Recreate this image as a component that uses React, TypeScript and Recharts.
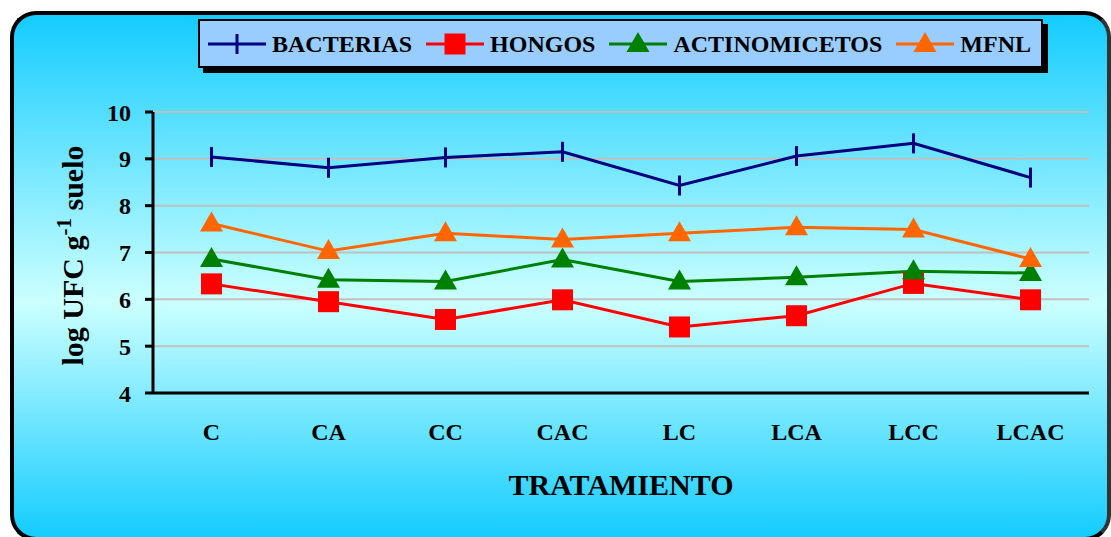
import React from 'react';
import { LineChart, Line, XAxis, YAxis, CartesianGrid, Label } from 'recharts';

const categories = ['C', 'CA', 'CC', 'CAC', 'LC', 'LCA', 'LCC', 'LCAC'];
const bacterias = [9.04, 8.81, 9.03, 9.15, 8.43, 9.06, 9.33, 8.6];
const hongos = [6.33, 5.95, 5.57, 5.99, 5.41, 5.65, 6.34, 5.99];
const actinomicetos = [6.86, 6.42, 6.38, 6.85, 6.38, 6.47, 6.6, 6.56];
const mfnl = [7.62, 7.03, 7.41, 7.28, 7.41, 7.54, 7.49, 6.86];
const yTicks = [4, 5, 6, 7, 8, 9, 10];
const seriesNames = ['BACTERIAS', 'HONGOS', 'ACTINOMICETOS', 'MFNL'];
const colors = ['#000080', '#FF0000', '#008000', '#FF6600'];
const markerTypes = ['dash', 'square', 'triangle', 'triangle'];

const boundaryTicks = categories.map((_, i) => i).concat([categories.length]);
const centerTicks = categories.map((_, i) => i + 0.5);

const data = categories.map((c, i) => ({
  name: c,
  x: i + 0.5,
  bacterias: bacterias[i],
  hongos: hongos[i],
  actinomicetos: actinomicetos[i],
  mfnl: mfnl[i],
}));

const FONT = '"Liberation Serif", "Times New Roman", serif';

function Marker({ type, cx, cy, color }: { type: string; cx: number; cy: number; color: string }) {
  if (type === 'dash') {
    return <line x1={cx} y1={cy - 10} x2={cx} y2={cy + 10} stroke={color} strokeWidth={3} />;
  }
  if (type === 'square') {
    return <rect x={cx - 10.5} y={cy - 10.5} width={21} height={21} fill={color} />;
  }
  return (
    <polygon
      points={`${cx},${cy - 12} ${cx + 11.5},${cy + 8} ${cx - 11.5},${cy + 8}`}
      fill={color}
    />
  );
}

const makeDot = (idx: number) => (props: any) => {
  const { cx, cy, index } = props;
  if (cx == null || cy == null) return <g key={`d${idx}-${index}`} />;
  return (
    <g key={`d${idx}-${index}`}>
      <Marker type={markerTypes[idx]} cx={cx} cy={cy} color={colors[idx]} />
    </g>
  );
};

function LegendBox() {
  return (
    <div
      style={{
        position: 'absolute',
        left: 198,
        top: 19,
        width: 845,
        height: 49,
        boxSizing: 'border-box',
        background: '#99CCFF',
        border: '2px solid #000',
        boxShadow: '5px 5px 0 #000',
        display: 'flex',
        alignItems: 'center',
        paddingLeft: 8,
        fontFamily: FONT,
        fontWeight: 'bold',
        fontSize: 24,
        color: '#000',
      }}
    >
      {seriesNames.map((n, i) => (
        <div key={n} style={{ display: 'flex', alignItems: 'center', marginRight: 14 }}>
          <svg width={58} height={26} style={{ display: 'block' }}>
            <line x1={0} y1={13} x2={58} y2={13} stroke={colors[i]} strokeWidth={3} />
            <Marker type={markerTypes[i]} cx={29} cy={13} color={colors[i]} />
          </svg>
          <span style={{ marginLeft: 6, lineHeight: '26px' }}>{n}</span>
        </div>
      ))}
    </div>
  );
}

const renderYLabel = (props: any) => {
  const vb = props.viewBox || {};
  const x = (vb.x || 0) + 83;
  const y = (vb.y || 0) + (vb.height || 0) / 2 + 3;
  return (
    <text
      x={x}
      y={y}
      transform={`rotate(-90, ${x}, ${y})`}
      textAnchor="middle"
      fontFamily={FONT}
      fontWeight="bold"
      fontSize={30}
      fill="#000"
    >
      <tspan>log UFC g</tspan>
      <tspan dy={-12} fontSize={21}>-1</tspan>
      <tspan dy={12}> suelo</tspan>
    </text>
  );
};

const renderXLabel = (props: any) => {
  const vb = props.viewBox || {};
  return (
    <text
      x={(vb.x || 0) + (vb.width || 0) / 2}
      y={(vb.y || 0) + 92}
      textAnchor="middle"
      fontFamily={FONT}
      fontWeight="bold"
      fontSize={30}
      fill="#000"
    >
      TRATAMIENTO
    </text>
  );
};

export default function App() {
  return (
    <div style={{ position: 'absolute', left: 0, top: 0, width: 1111, height: 537, overflow: 'hidden' }}>
      <div
        style={{
          position: 'absolute',
          left: 10,
          top: 11,
          width: 1101,
          height: 530,
          boxSizing: 'border-box',
          border: '4px solid #000',
          borderRightColor: '#333',
          borderRadius: 26,
          background: 'linear-gradient(180deg, #14CCFF 0%, #CCFFFF 55%, #14CCFF 100%)',
        }}
      />
      <div style={{ position: 'absolute', left: 0, top: 0 }}>
        <LineChart
          width={1111}
          height={537}
          data={data}
          margin={{ top: 112, right: 22, bottom: 0, left: 0 }}
        >
          <CartesianGrid vertical={false} stroke="#C0C0C0" strokeWidth={2} xAxisId="a" />
          <XAxis
            xAxisId="a"
            dataKey="x"
            type="number"
            domain={[0, categories.length]}
            ticks={boundaryTicks}
            tick={false}
            tickSize={8}
            height={10}
            axisLine={{ stroke: '#000', strokeWidth: 3 }}
            tickLine={{ stroke: '#000', strokeWidth: 3 }}
            allowDataOverflow
          />
          <XAxis
            xAxisId="b"
            dataKey="x"
            type="number"
            domain={[0, categories.length]}
            ticks={centerTicks}
            tickFormatter={(v: number) => categories[Math.floor(v)]}
            axisLine={false}
            tickLine={false}
            tickSize={0}
            tickMargin={20}
            height={134}
            interval={0}
            tick={{ fontFamily: FONT, fontWeight: 'bold', fontSize: 24, fill: '#000' }}
          >
            <Label content={renderXLabel} />
          </XAxis>
          <YAxis
            domain={[4, 10]}
            ticks={yTicks}
            width={153}
            interval={0}
            tickSize={8}
            tickMargin={14}
            axisLine={{ stroke: '#000', strokeWidth: 3 }}
            tickLine={{ stroke: '#000', strokeWidth: 3 }}
            tick={{ fontFamily: FONT, fontWeight: 'bold', fontSize: 24, fill: '#000' }}
          >
            <Label content={renderYLabel} />
          </YAxis>
          <Line xAxisId="a" dataKey="bacterias" stroke={colors[0]} strokeWidth={3} dot={makeDot(0)} isAnimationActive={false} />
          <Line xAxisId="a" dataKey="hongos" stroke={colors[1]} strokeWidth={3} dot={makeDot(1)} isAnimationActive={false} />
          <Line xAxisId="a" dataKey="actinomicetos" stroke={colors[2]} strokeWidth={3} dot={makeDot(2)} isAnimationActive={false} />
          <Line xAxisId="a" dataKey="mfnl" stroke={colors[3]} strokeWidth={3} dot={makeDot(3)} isAnimationActive={false} />
        </LineChart>
      </div>
      <LegendBox />
    </div>
  );
}
